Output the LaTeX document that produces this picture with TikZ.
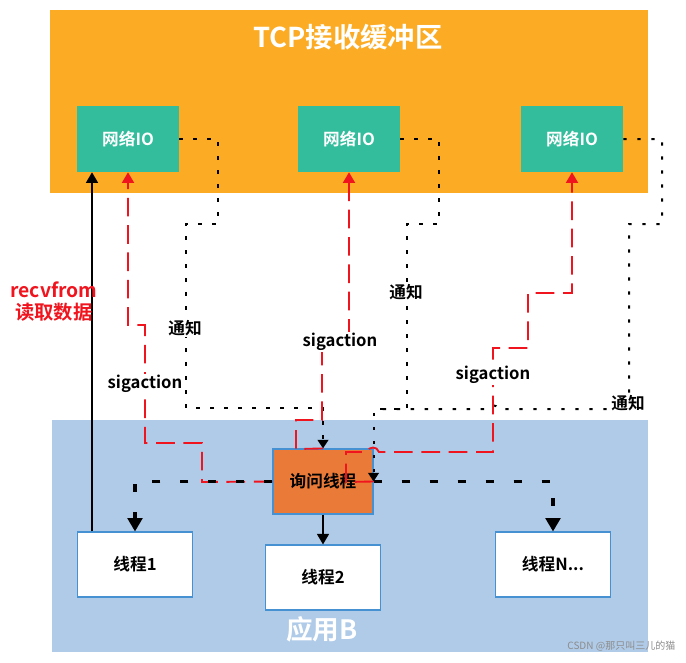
\documentclass[tikz,border=0pt]{standalone}
\usepackage{fontspec}
\setmainfont{Noto Sans CJK SC}[BoldFont={Noto Sans CJK SC Bold}]
\usetikzlibrary{arrows.meta}
\definecolor{bufbg}{RGB}{252,172,36}
\definecolor{appbg}{RGB}{176,203,232}
\definecolor{teal}{RGB}{51,189,156}
\definecolor{askor}{RGB}{234,122,56}
\definecolor{bordblue}{RGB}{70,145,210}
\definecolor{sigred}{RGB}{240,20,30}
\tikzset{
  netio/.style={fill=teal, text=white, minimum width=76.5pt, minimum height=49.5pt, inner sep=0pt},
  thrbox/.style={fill=white, draw=bordblue, line width=0.8pt, minimum width=86pt, minimum height=48.75pt, inner sep=0pt},
  askbox/.style={fill=askor, draw=bordblue, line width=0.8pt, minimum width=75pt, minimum height=48.75pt, inner sep=0pt},
  notify/.style={line width=1.5pt, dash pattern=on 2.6pt off 7.9pt, -{Triangle[width=8pt,length=6.5pt]}},
  notifyplain/.style={line width=1.5pt, dash pattern=on 2.6pt off 7.9pt},
  sigline/.style={sigred, line width=1.4pt, dash pattern=on 14pt off 6.5pt, -{Triangle[width=9pt,length=8pt]}},
  thick dash/.style={line width=2.3pt, dash pattern=on 6pt off 15pt, -{Triangle[width=11pt,length=10pt]}},
  solidarrow/.style={line width=1.3pt, -{Triangle[width=9pt,length=8pt]}},
  lbl/.style={fill=white, inner sep=1pt, text=black},
}
\begin{document}
\begin{tikzpicture}[x=0.75pt,y=-0.75pt, font=\bfseries\fontsize{12.5}{15}\selectfont]
\useasboundingbox (0,0) rectangle (686,662);
% backgrounds
\fill[bufbg] (50,10) rectangle (648,193);
\fill[appbg] (52,420) rectangle (648,652);
\node[text=white, font=\bfseries\fontsize{20.5}{24}\selectfont] (title) at (348,37) {TCP接收缓冲区};
\node[text=white, font=\bfseries\fontsize{20}{24}\selectfont] (appb) at (322,629) {应用B};
% boxes
\node[netio] (io1) at (128,139) {网络IO};
\node[netio] (io2) at (349,139) {网络IO};
\node[netio] (io3) at (572,139) {网络IO};
\node[askbox] (ask) at (323,481.5) {询问线程};
\node[thrbox] (t1) at (135,564.5) {线程1};
\node[thrbox] (t2) at (323,577.5) {线程2};
\node[thrbox] (tN) at (553,564.5) {线程N...};
% coordinates
\coordinate (rx) at (92,0);
\coordinate (mergeB) at (373,409);
% recvfrom solid arrow
\draw[solidarrow] (t1.north -| rx) -- (io1.south -| rx);
\node[text=sigred, align=center, font=\bfseries\fontsize{14.5}{16.5}\selectfont] (recv) at (54,302) {recvfrom\\读取数据};
% notify dotted
\draw[notify] (io1.east) -- (218,139) -- (218,224) -- (186,224) -- (186,408) -| (ask.north);
\draw[notify] (io2.east) -- (439,139) -- (439,224) -- (407,224) -- (407,409) -| (ask.east);
\draw[notifyplain] (io3.east) -- (662,139) -- (662,224) -- (629,224) -- (629,409) -- (498,409)
   .. controls (497,404) and (489,404) .. (488,409) -- (mergeB);
% sigaction red dashed
\draw[sigline] (ask.west) -- (202,482) -- (202,443) -- (145,443) -- (145,325) -| (io1.south);
\draw[sigline] (ask.north) -- (296,449) -- (296,420) -- (322,420) -- (322,342) -| (io2.south);
\draw[sigline] (ask.east) -- (346,482) -- (346,452) -- (367,452)
   .. controls (369,446) and (377,446) .. (379,452) -- (493,452) -- (493,348) -- (528,348) -- (528,293) -| (io3.south);
% thread dispatch
\draw[thick dash] (ask.west) -| (t1.north);
\draw[thick dash] (ask.east) -| (tN.north);
\draw[solidarrow] (ask.south) -- (t2.north);
% labels
\node[lbl] (n1) at (185,328) {通知};
\node[lbl] (n2) at (406,292) {通知};
\node[lbl] (n3) at (628,403) {通知};
\node[lbl] (s1) at (145,384) {sigaction};
\node[lbl] (s2) at (340,342) {sigaction};
\node[lbl] (s3) at (493,375) {sigaction};
\node[text=black!45, font=\fontsize{7.5}{9}\selectfont, anchor=east] (wm) at (680,646) {CSDN @那只叫三儿的猫};
\end{tikzpicture}
\end{document}
